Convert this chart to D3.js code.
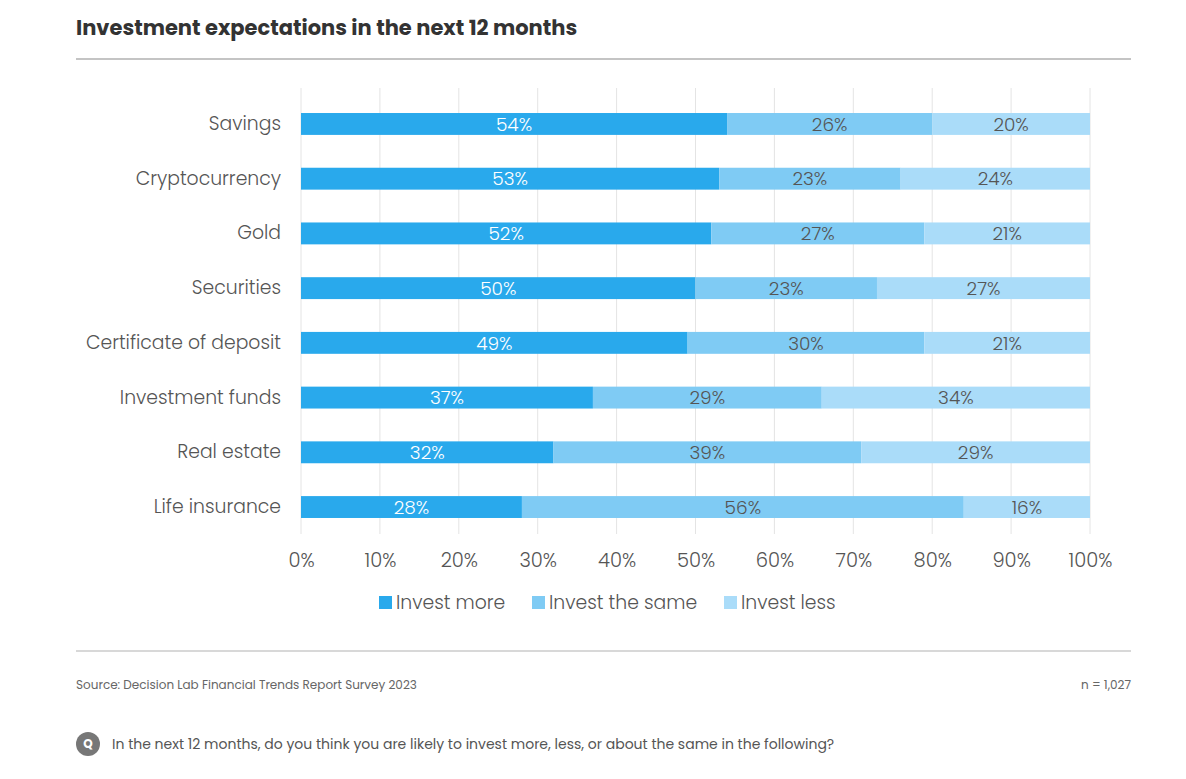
<!DOCTYPE html>
<html>
<head>
<meta charset="utf-8">
<script src="https://cdn.jsdelivr.net/npm/d3@7"></script>
<style>
  html, body { margin: 0; padding: 0; background: #fff; }
  svg { display: block; font-family: "Poppins", "Open Sans", sans-serif; }
</style>
</head>
<body>
<svg id="chart" width="1186" height="779"></svg>
<script>
const categories = ["Savings", "Cryptocurrency", "Gold", "Securities", "Certificate of deposit", "Investment funds", "Real estate", "Life insurance"];
const seriesNames = ["Invest more", "Invest the same", "Invest less"];
const investMore = [54, 53, 52, 50, 49, 37, 32, 28];
const investSame = [26, 23, 27, 23, 30, 29, 39, 56];
const investLess = [20, 24, 21, 27, 21, 34, 29, 16];
const tickValues = [0, 10, 20, 30, 40, 50, 60, 70, 80, 90, 100];
const colors = ["#29a9ec", "#7fcbf4", "#aadcf9"];
const labelColors = ["#ffffff", "#555555", "#555555"];

const svg = d3.select("#chart");

const data = categories.map((c, i) => ({ category: c, "Invest more": investMore[i], "Invest the same": investSame[i], "Invest less": investLess[i] }));
const stack = d3.stack().keys(seriesNames)(data);

const x = d3.scaleLinear().domain([0, 100]).range([301, 1090]);
const y = d3.scaleBand().domain(categories).range([96.6, 534.4]).paddingInner(0.6).paddingOuter(0.3);

// title
svg.append("text").attr("x", 76).attr("y", 35).attr("font-size", 21).attr("font-weight", 700)
  .attr("fill", "#333").text("Investment expectations in the next 12 months");
svg.append("line").attr("x1", 76).attr("x2", 1131).attr("y1", 59).attr("y2", 59).attr("stroke", "#c4c4c4").attr("stroke-width", 2);

// grid
svg.append("g").selectAll("line").data(tickValues).join("line")
  .attr("x1", d => x(d)).attr("x2", d => x(d)).attr("y1", 88).attr("y2", 534)
  .attr("stroke", "#e4e4e4").attr("stroke-width", 1);

// bars
const groups = svg.append("g").selectAll("g").data(stack).join("g")
  .attr("fill", (d, i) => colors[i]);
groups.selectAll("rect").data(d => d).join("rect")
  .attr("x", d => x(d[0])).attr("width", d => x(d[1]) - x(d[0]))
  .attr("y", d => y(d.data.category)).attr("height", y.bandwidth());

// bar labels
stack.forEach((s, si) => {
  svg.append("g").selectAll("text").data(s).join("text")
    .attr("x", d => (x(d[0]) + x(d[1])) / 2)
    .attr("y", d => y(d.data.category) + y.bandwidth() / 2)
    .attr("dy", "0.36em").attr("text-anchor", "middle").attr("font-size", 18.5).attr("font-weight", 300)
    .attr("fill", labelColors[si]).text(d => (d[1] - d[0]) + "%");
});

// y axis labels
const yAxis = d3.axisLeft(y).tickSize(0).tickPadding(20);
const ya = svg.append("g").attr("transform", `translate(301,0)`).call(yAxis)
  .attr("font-family", null).attr("font-size", null);
ya.select(".domain").remove();
ya.selectAll("text").attr("font-size", 18.8).attr("font-weight", 300).attr("fill", "#555");

// x axis
const xAxis = d3.axisBottom(x).tickValues(tickValues).tickFormat(d => d + "%").tickSize(0).tickPadding(0);
const xa = svg.append("g").attr("transform", `translate(0,553)`).call(xAxis)
  .attr("font-family", null).attr("font-size", null);
xa.select(".domain").remove();
xa.selectAll("text").attr("font-size", 19.5).attr("font-weight", 300).attr("fill", "#555");

// legend
const legendX = [379, 532, 724];
const lg = svg.append("g").selectAll("g").data(seriesNames).join("g")
  .attr("transform", (d, i) => `translate(${legendX[i]},596)`);
lg.append("rect").attr("width", 13).attr("height", 13).attr("fill", (d, i) => colors[i]);
lg.append("text").attr("x", 17).attr("y", 6.5).attr("dy", "0.36em").attr("font-size", 18.8).attr("font-weight", 300).attr("fill", "#555").text(d => d);

// footer
svg.append("line").attr("x1", 76).attr("x2", 1131).attr("y1", 651).attr("y2", 651).attr("stroke", "#d8d8d8").attr("stroke-width", 2);
svg.append("text").attr("x", 76).attr("y", 689).attr("font-size", 12).attr("fill", "#666").text("Source: Decision Lab Financial Trends Report Survey 2023");
svg.append("text").attr("x", 1131).attr("y", 689).attr("text-anchor", "end").attr("font-size", 12).attr("fill", "#666").text("n = 1,027");
svg.append("circle").attr("cx", 88).attr("cy", 744).attr("r", 12).attr("fill", "#777");
svg.append("text").attr("x", 88).attr("y", 744).attr("dy", "0.36em").attr("text-anchor", "middle").attr("font-size", 12).attr("font-weight", 700).attr("fill", "#fff").text("Q");
svg.append("text").attr("x", 112).attr("y", 749).attr("font-size", 14).attr("fill", "#555").text("In the next 12 months, do you think you are likely to invest more, less, or about the same in the following?");
</script>
</body>
</html>
